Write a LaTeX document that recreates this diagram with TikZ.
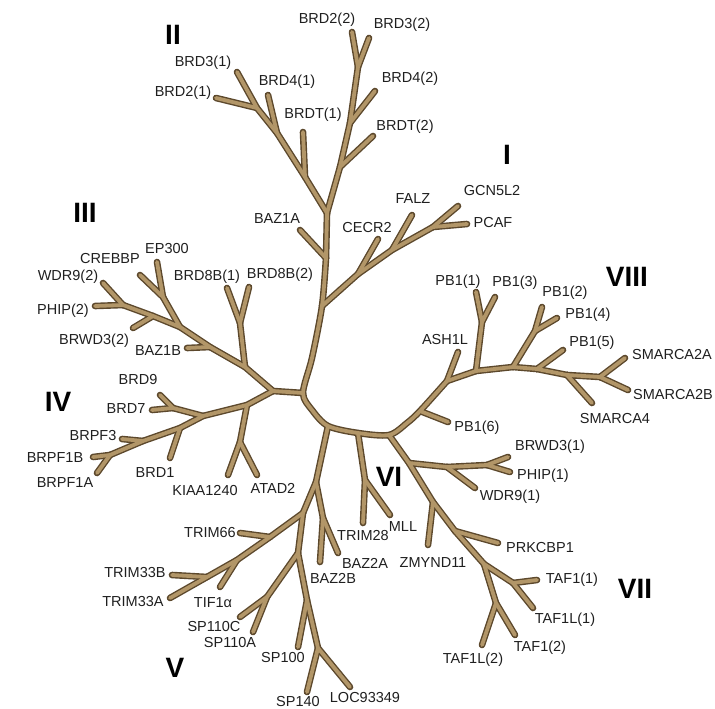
\documentclass[tikz,border=0pt]{standalone}
\usepackage{fontspec}
\setmainfont{Liberation Sans}
\definecolor{brfill}{RGB}{178,150,104}
\definecolor{brline}{RGB}{92,72,44}
\tikzset{
 brout/.style={draw=brline, line width=6.6pt, line cap=round, line join=round},
 brin/.style={draw=brfill, line width=3.8pt, line cap=round, line join=round},
 lab/.style={font=\fontsize{14.5}{16}\selectfont, text=black!88, inner sep=0pt},
 grp/.style={font=\fontsize{28}{30}\selectfont\bfseries, text=black, inner sep=0pt}
}
\begin{document}
\begin{tikzpicture}[x=1pt,y=-1pt]
\useasboundingbox (0,0) rectangle (715,709);
% central
\coordinate (baz) at (326,258);
\coordinate (t1) at (322,306);
\coordinate (m1) at (312,358);
\coordinate (hub) at (303,393);
\coordinate (m2) at (312,410);
\coordinate (v) at (328,426);
\coordinate (vi) at (358,433);
\coordinate (vii) at (389,435);
\coordinate (m3) at (407,423);
\coordinate (p6j) at (420,411);
\coordinate (ashj) at (447,381);
% top / I
\coordinate (baz1a) at (300,230);
\coordinate (r2) at (327,213);
\coordinate (c1) at (340,290);
\coordinate (cecrj) at (358,274);
\coordinate (falzj) at (392,250);
\coordinate (gpj) at (433,227);
\coordinate (cecr2) at (378,239);
\coordinate (falz) at (412,215);
\coordinate (gcn) at (458,206);
\coordinate (pcaf) at (467,224);
% II
\coordinate (bt1j) at (305,177);
\coordinate (b41j) at (277,133);
\coordinate (b21j) at (257,108);
\coordinate (brd31) at (237,72);
\coordinate (brdt1) at (303,132);
\coordinate (brd41) at (268,95);
\coordinate (brd21) at (216,98);
\coordinate (bt2j) at (340,167);
\coordinate (b42j) at (350,123);
\coordinate (b22j) at (358,67);
\coordinate (brd22) at (352,32);
\coordinate (brd32) at (369,38);
\coordinate (brdt2) at (373,136);
\coordinate (brd42) at (375,91);
% III
\coordinate (j34) at (273,391);
\coordinate (b8j) at (245,367);
\coordinate (b8s) at (240,323);
\coordinate (brd8b1) at (227,288);
\coordinate (brd8b2) at (249,287);
\coordinate (bz1bj) at (210,347);
\coordinate (baz1b) at (187,348);
\coordinate (epj) at (180,327);
\coordinate (eps) at (163,297);
\coordinate (crebbp) at (140,275);
\coordinate (ep300) at (157,262);
\coordinate (bw2j) at (153,316);
\coordinate (brwd32) at (133,328);
\coordinate (wpj) at (123,305);
\coordinate (wdr92) at (103,283);
\coordinate (phip2) at (95,306);
% IV
\coordinate (katj) at (247,405);
\coordinate (kats) at (240,442);
\coordinate (kiaa) at (228,475);
\coordinate (atad2) at (257,475);
\coordinate (b97j) at (203,416);
\coordinate (b97s) at (173,408);
\coordinate (brd9) at (160,395);
\coordinate (brd7) at (152,410);
\coordinate (brd1j) at (180,428);
\coordinate (brd1) at (170,458);
\coordinate (bp3j) at (143,441);
\coordinate (brpf3) at (122,439);
\coordinate (bp1s) at (110,455);
\coordinate (brpf1b) at (93,457);
\coordinate (brpf1a) at (97,473);
% V
\coordinate (bz2j) at (316,482);
\coordinate (bz2s) at (323,518);
\coordinate (baz2b) at (320,562);
\coordinate (baz2a) at (338,553);
\coordinate (v2) at (303,513);
\coordinate (t66j) at (270,537);
\coordinate (trim66) at (240,533);
\coordinate (tifj) at (237,560);
\coordinate (tif1a) at (220,587);
\coordinate (t33s) at (207,577);
\coordinate (trim33b) at (172,575);
\coordinate (trim33a) at (170,598);
\coordinate (s110j) at (298,553);
\coordinate (s110s) at (267,597);
\coordinate (sp110c) at (240,617);
\coordinate (sp110a) at (253,632);
\coordinate (s100j) at (307,600);
\coordinate (sp100) at (298,647);
\coordinate (spj) at (318,648);
\coordinate (sp140) at (307,692);
\coordinate (loc) at (350,687);
% VI
\coordinate (tmj) at (365,480);
\coordinate (trim28) at (363,523);
\coordinate (mll) at (390,515);
% VII
\coordinate (phj) at (409,463);
\coordinate (wdj) at (447,467);
\coordinate (phs) at (487,465);
\coordinate (brwd31) at (508,457);
\coordinate (phip1) at (510,472);
\coordinate (wdr91) at (475,488);
\coordinate (zmj) at (433,502);
\coordinate (zmynd) at (428,545);
\coordinate (prj) at (455,531);
\coordinate (prk) at (498,543);
\coordinate (tafj) at (484,564);
\coordinate (t1s) at (513,583);
\coordinate (taf11) at (537,580);
\coordinate (taf1l1) at (533,608);
\coordinate (t2s) at (496,603);
\coordinate (taf12) at (515,635);
\coordinate (taf1l2) at (482,645);
% VIII
\coordinate (pb6) at (448,422);
\coordinate (ash1l) at (458,352);
\coordinate (pbj) at (476,371);
\coordinate (pbs) at (482,322);
\coordinate (pb11) at (476,292);
\coordinate (pb13) at (495,297);
\coordinate (pb24j) at (513,367);
\coordinate (pb24s) at (535,331);
\coordinate (pb12) at (542,307);
\coordinate (pb14) at (557,318);
\coordinate (pb5j) at (537,369);
\coordinate (pb15) at (563,350);
\coordinate (sm4j) at (567,375);
\coordinate (smarca4) at (592,403);
\coordinate (smj) at (600,377);
\coordinate (sm2a) at (625,358);
\coordinate (sm2b) at (628,390);

\def\edges{t1/c1, c1/cecrj, cecrj/falzj, falzj/gpj, cecrj/cecr2, falzj/falz, gpj/gcn, gpj/pcaf,
baz/r2, baz/baz1a,
r2/bt1j, bt1j/b41j, b41j/b21j, b21j/brd31, b21j/brd21, bt1j/brdt1, b41j/brd41,
r2/bt2j, bt2j/b42j, b42j/b22j, b22j/brd22, b22j/brd32, bt2j/brdt2, b42j/brd42,
hub/j34, j34/b8j, b8j/bz1bj, bz1bj/epj, epj/bw2j, bw2j/wpj, wpj/wdr92, wpj/phip2, bw2j/brwd32, epj/eps, eps/crebbp, eps/ep300, bz1bj/baz1b, b8j/b8s, b8s/brd8b1, b8s/brd8b2,
j34/katj, katj/kats, kats/kiaa, kats/atad2, katj/b97j, b97j/b97s, b97s/brd9, b97s/brd7, b97j/brd1j, brd1j/brd1, brd1j/bp3j, bp3j/brpf3, bp3j/bp1s, bp1s/brpf1b, bp1s/brpf1a,
v/bz2j, bz2j/v2, bz2j/bz2s, bz2s/baz2b, bz2s/baz2a, v2/t66j, t66j/trim66, t66j/tifj, tifj/tif1a, tifj/t33s, t33s/trim33b, t33s/trim33a, v2/s110j, s110j/s110s, s110s/sp110c, s110s/sp110a, s110j/s100j, s100j/sp100, s100j/spj, spj/sp140, spj/loc,
vi/tmj, tmj/trim28, tmj/mll,
vii/phj, phj/wdj, wdj/phs, phs/brwd31, phs/phip1, wdj/wdr91, phj/zmj, zmj/zmynd, zmj/prj, prj/prk, prj/tafj, tafj/t1s, t1s/taf11, t1s/taf1l1, tafj/t2s, t2s/taf1l2, t2s/taf12,
p6j/pb6, ashj/ash1l, ashj/pbj, pbj/pbs, pbs/pb11, pbs/pb13, pbj/pb24j, pb24j/pb24s, pb24s/pb12, pb24s/pb14, pb24j/pb5j, pb5j/pb15, pb5j/sm4j, sm4j/smarca4, sm4j/smj, smj/sm2a, smj/sm2b}

\foreach \a/\b in \edges {\draw[brout] (\a) -- (\b);}
\draw[brout] plot[smooth] coordinates {(baz) (t1) (m1) (hub) (m2) (v) (vi) (vii) (m3) (p6j) (ashj)};
\foreach \a/\b in \edges {\draw[brin] (\a) -- (\b);}
\draw[brin] plot[smooth] coordinates {(baz) (t1) (m1) (hub) (m2) (v) (vi) (vii) (m3) (p6j) (ashj)};

% group numerals
\node[grp] (gII) at (173,35) {II};
\node[grp] (gI) at (507,155) {I};
\node[grp] (gIII) at (85,213) {III};
\node[grp] (gVIII) at (627,277) {VIII};
\node[grp] (gIV) at (58,402) {IV};
\node[grp] (gVI) at (389,477) {VI};
\node[grp] (gVII) at (635,589) {VII};
\node[grp] (gV) at (175,668) {V};

% labels
\node[lab] (lBRD22) at (327,20) {BRD2(2)};
\node[lab] (lBRD32) at (402,25) {BRD3(2)};
\node[lab] (lBRD31) at (203,63) {BRD3(1)};
\node[lab] (lBRD41) at (287,82) {BRD4(1)};
\node[lab] (lBRD42) at (410,79) {BRD4(2)};
\node[lab] (lBRD21) at (183,93) {BRD2(1)};
\node[lab] (lBRDT1) at (313,115) {BRDT(1)};
\node[lab] (lBRDT2) at (405,127) {BRDT(2)};
\node[lab] (lGCN) at (492,191) {GCN5L2};
\node[lab] (lFALZ) at (413,199) {FALZ};
\node[lab] (lPCAF) at (493,223) {PCAF};
\node[lab] (lBAZ1A) at (277,219) {BAZ1A};
\node[lab] (lCECR2) at (367,228) {CECR2};
\node[lab] (lCREBBP) at (110,259) {CREBBP};
\node[lab] (lEP300) at (167,249) {EP300};
\node[lab] (lWDR92) at (68,277) {WDR9(2)};
\node[lab] (lBRD8B1) at (207,277) {BRD8B(1)};
\node[lab] (lBRD8B2) at (280,275) {BRD8B(2)};
\node[lab] (lPB11) at (458,282) {PB1(1)};
\node[lab] (lPB13) at (515,283) {PB1(3)};
\node[lab] (lPB12) at (565,293) {PB1(2)};
\node[lab] (lPB14) at (588,315) {PB1(4)};
\node[lab] (lASH1L) at (445,340) {ASH1L};
\node[lab] (lPB15) at (592,343) {PB1(5)};
\node[lab] (lSM2A) at (672,355) {SMARCA2A};
\node[lab] (lPHIP2) at (63,311) {PHIP(2)};
\node[lab] (lBRWD32) at (94,341) {BRWD3(2)};
\node[lab] (lBAZ1B) at (158,351) {BAZ1B};
\node[lab] (lBRD9) at (138,380) {BRD9};
\node[lab] (lSM2B) at (673,395) {SMARCA2B};
\node[lab] (lBRD7) at (126,409) {BRD7};
\node[lab] (lSM4) at (615,419) {SMARCA4};
\node[lab] (lPB16) at (477,428) {PB1(6)};
\node[lab] (lBRPF3) at (93,436) {BRPF3};
\node[lab] (lBRWD31) at (550,447) {BRWD3(1)};
\node[lab] (lBRPF1B) at (55,458) {BRPF1B};
\node[lab] (lBRD1) at (155,473) {BRD1};
\node[lab] (lPHIP1) at (543,476) {PHIP(1)};
\node[lab] (lBRPF1A) at (65,483) {BRPF1A};
\node[lab] (lATAD2) at (273,488) {ATAD2};
\node[lab] (lKIAA) at (205,491) {KIAA1240};
\node[lab] (lWDR91) at (510,497) {WDR9(1)};
\node[lab] (lMLL) at (403,527) {MLL};
\node[lab] (lTRIM66) at (210,533) {TRIM66};
\node[lab] (lTRIM28) at (363,536) {TRIM28};
\node[lab] (lPRK) at (540,548) {PRKCBP1};
\node[lab] (lBAZ2A) at (365,563) {BAZ2A};
\node[lab] (lZMYND) at (433,563) {ZMYND11};
\node[lab] (lTRIM33B) at (135,573) {TRIM33B};
\node[lab] (lBAZ2B) at (333,578) {BAZ2B};
\node[lab] (lTAF11) at (572,580) {TAF1(1)};
\node[lab] (lTRIM33A) at (133,602) {TRIM33A};
\node[lab] (lTIF) at (213,603) {TIF1α};
\node[lab] (lTAF1L1) at (565,620) {TAF1L(1)};
\node[lab] (lSP110C) at (214,627) {SP110C};
\node[lab] (lSP110A) at (230,643) {SP110A};
\node[lab] (lTAF12) at (540,648) {TAF1(2)};
\node[lab] (lSP100) at (283,658) {SP100};
\node[lab] (lTAF1L2) at (473,660) {TAF1L(2)};
\node[lab] (lLOC) at (365,698) {LOC93349};
\node[lab] (lSP140) at (298,702) {SP140};
\end{tikzpicture}
\end{document}
